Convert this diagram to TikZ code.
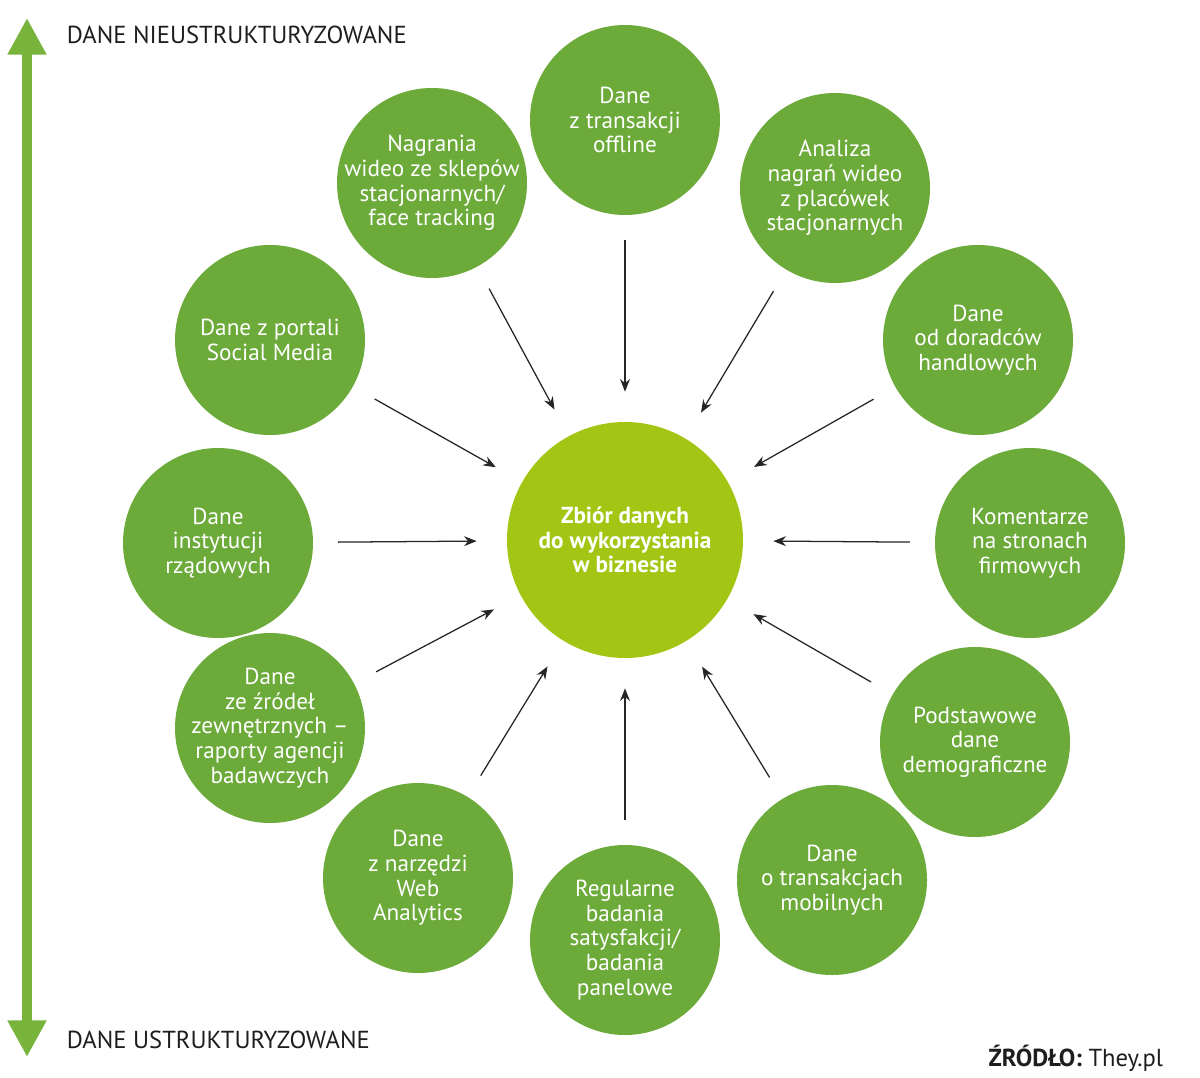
\documentclass[tikz,border=0pt]{standalone}
\usepackage{fontspec}
\setmainfont{PT Sans}
\usetikzlibrary{arrows.meta}
\definecolor{og}{RGB}{108,170,58}
\definecolor{cg}{RGB}{163,198,20}
\definecolor{ag}{RGB}{120,180,60}
\definecolor{tx}{RGB}{30,30,30}
\begin{document}
\begin{tikzpicture}[x=0.025cm,y=-0.025cm,
  outer/.style={circle,fill=og,minimum size=190*0.025cm,inner sep=-8pt,text=white,align=center,font=\fontsize{16.5}{17.5}\selectfont},
  center/.style={circle,fill=cg,minimum size=236*0.025cm,inner sep=0pt,text=white,align=center,font=\bfseries\fontsize{16.5}{17.5}\selectfont},
  conn/.style={-{Stealth[length=9pt,width=7pt]},line width=0.9pt,black!85,shorten <=0.62cm,shorten >=0.75cm},
  lab/.style={anchor=west,text=tx,font=\fontsize{17.5}{18}\selectfont}]
\useasboundingbox (0,0) rectangle (1200,1077);
\node[center] (c) at (625,540) {Zbiór danych\\do wykorzystania\\w biznesie};
\node[outer] (n1) at (625,120) {Dane\\z transakcji\\offline};
\node[outer] (n2) at (835,188) {Analiza\\nagrań wideo\\z placówek\\stacjonarnych};
\node[outer] (n3) at (978,340) {Dane\\od doradców\\handlowych};
\node[outer] (n4) at (1030,543) {Komentarze\\na stronach\\firmowych};
\node[outer] (n5) at (975,742) {Podstawowe\\dane\\demograficzne};
\node[outer] (n6) at (832,880) {Dane\\o transakcjach\\mobilnych};
\node[outer] (n7) at (625,940) {Regularne\\badania\\satysfakcji/\\badania\\panelowe};
\node[outer] (n8) at (418,878) {Dane\\z narzędzi\\Web\\Analytics};
\node[outer] (n9) at (270,728) {Dane\\ze źródeł\\zewnętrznych –\\raporty agencji\\badawczych};
\node[outer] (n10) at (218,543) {Dane\\instytucji\\rządowych};
\node[outer] (n11) at (270,340) {Dane z portali\\Social Media};
\node[outer] (n12) at (432,183) {Nagrania\\wideo ze sklepów\\stacjonarnych/\\face tracking};
\foreach \i in {1,...,12} \draw[conn] (n\i) -- (c);
\coordinate (atop) at (27,18);
\coordinate (abot) at (27,1057);
\draw[ag,line width=7pt,{Triangle[length=26pt,width=26pt]}-{Triangle[length=26pt,width=26pt]}] (atop) -- (abot);
\node[lab] (t1) at (62,35) {DANE NIEUSTRUKTURYZOWANE};
\node[lab] (t2) at (62,1040) {DANE USTRUKTURYZOWANE};
\node[anchor=east,text=tx,font=\fontsize{17.5}{18}\selectfont] (src) at (1168,1058) {\textbf{ŹRÓDŁO:} They.pl};
\end{tikzpicture}
\end{document}
